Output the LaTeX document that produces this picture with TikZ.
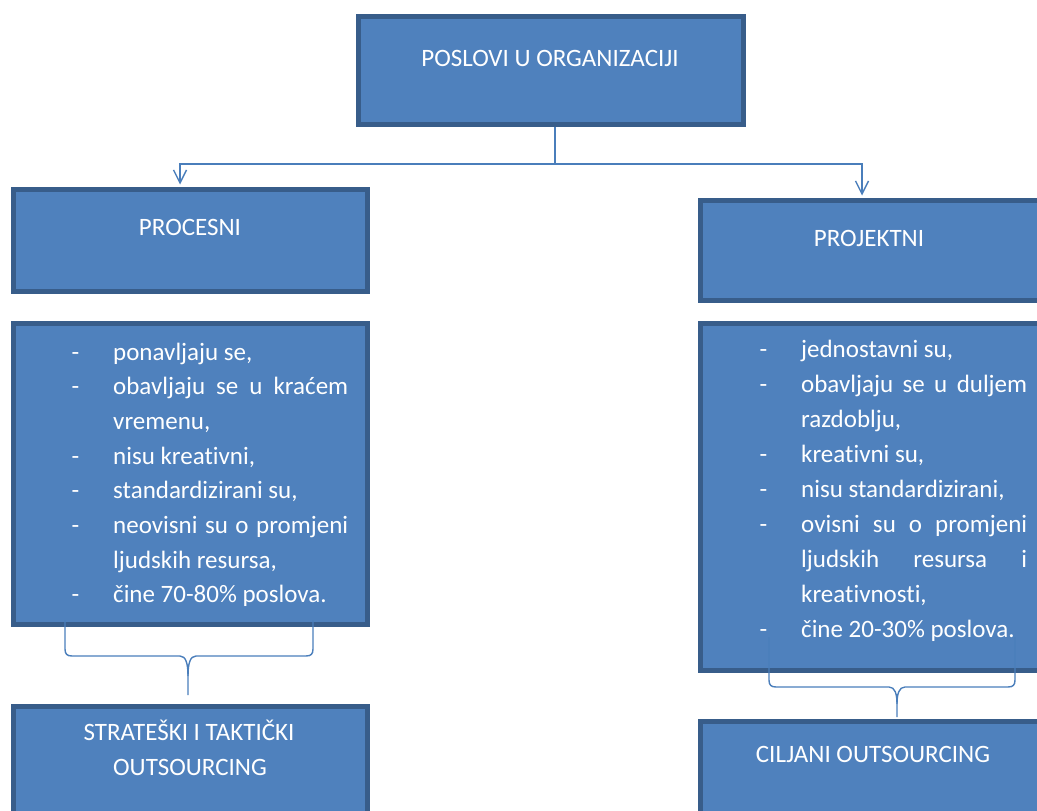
\documentclass[tikz,border=0pt]{standalone}
\usepackage{fontspec}
\setmainfont[Ligatures=NoCommon]{Carlito}
\usetikzlibrary{arrows.meta}

\definecolor{boxfill}{HTML}{4F81BD}
\definecolor{boxline}{HTML}{385D8A}
\definecolor{linkcol}{HTML}{4A7EBB}

\newlength{\dashw}
\setlength{\dashw}{41.5pt}
\newcommand{\itm}[1]{\makebox[\dashw][l]{-}#1}
\newcommand{\cont}[1]{\hspace*{\dashw}#1}
\newcommand{\jst}[2]{\makebox[#1][s]{#2}}

\begin{document}
\begin{tikzpicture}[x=1pt,y=-1pt,
    box/.style={draw=boxline, line width=5pt, fill=boxfill, inner sep=0pt},
    boxtext/.style={text=white, font=\fontsize{25}{30}\selectfont, anchor=base, inner sep=0pt},
    item/.style={text=white, font=\fontsize{25}{30}\selectfont, anchor=base west, inner sep=0pt},
    link/.style={draw=linkcol, line width=1.4pt}]

    \useasboundingbox (0,0) rectangle (1037,811);
    \clip (0,0) rectangle (1037,811);

    % boxes
    \node[box, minimum width=385pt, minimum height=108pt] (org) at (550.5,70) {};
    \node[box, minimum width=354pt, minimum height=102pt] (proc) at (190,240) {};
    \node[box, minimum width=350pt, minimum height=100pt] (proj) at (875,250) {};
    \node[box, minimum width=354pt, minimum height=301pt] (procL) at (190,473.5) {};
    \node[box, minimum width=350pt, minimum height=347pt] (projL) at (875,496.5) {};
    \node[box, minimum width=354pt, minimum height=134pt] (sto) at (190,773) {};
    \node[box, minimum width=350pt, minimum height=119pt] (cilj) at (875,780.5) {};

    % titles
    \node[boxtext] (orgT) at (550,66) {POSLOVI U ORGANIZACIJI};
    \node[boxtext] (procT) at (190,235) {PROCESNI};
    \node[boxtext] (projT) at (869,246) {PROJEKTNI};
    \node[boxtext] (stoT) at (189,740) {STRATEŠKI I TAKTIČKI};
    \node[boxtext] (stoT2) at (190,775) {OUTSOURCING};
    \node[boxtext] (ciljT) at (873,762) {CILJANI OUTSOURCING};

    % lists
    \foreach \ln [count=\i from 0] in {{\itm{ponavljaju se,}},
        {\itm{\jst{235pt}{obavljaju se u kraćem}}},
        {\cont{vremenu,}},
        {\itm{nisu kreativni,}},
        {\itm{standardizirani su,}},
        {\itm{\jst{235pt}{neovisni su o promjeni}}},
        {\cont{ljudskih resursa,}},
        {\itm{čine 70-80\% poslova.}}}
        \node[item] (pl\i) at (71.5,{360+34.7*\i}) {\ln};

    \foreach \ln [count=\i from 0] in {{\itm{jednostavni su,}},
        {\itm{\jst{226pt}{obavljaju se u duljem}}},
        {\cont{razdoblju,}},
        {\itm{kreativni su,}},
        {\itm{nisu standardizirani,}},
        {\itm{\jst{226pt}{ovisni su o promjeni}}},
        {\cont{\jst{226pt}{ljudskih resursa i}}},
        {\cont{kreativnosti,}},
        {\itm{čine 20-30\% poslova.}}}
        \node[item] (jl\i) at (759.5,{357+35.1*\i}) {\ln};

    % arrows
    \coordinate (split) at (555,164);
    \draw[link] (org.south -| split) -- (split);
    \draw[link,-{Straight Barb[length=13pt,width=13pt]}] (split) -| ([xshift=-10pt,yshift=2pt]proc.north);
    \draw[link,-{Straight Barb[length=13pt,width=13pt]}] (split) -| ([xshift=-13pt,yshift=2pt]proj.north);

    % braces
    \coordinate (procTip) at (188,695);
    \draw[link] (65,620) -- (65,649) .. controls (65,654) and (67,656) .. (72,656) -- (180,656)
        .. controls (186,656) and (188,664) .. (188,676) -- (procTip);
    \draw[link] (188,676) .. controls (188,664) and (190,656) .. (196,656) -- (306,656)
        .. controls (311,656) and (313,654) .. (313,649) -- (313,620);

    \coordinate (projTip) at (897,717);
    \draw[link] (769,637) -- (769,680) .. controls (769,685) and (771,687) .. (776,687) -- (889,687)
        .. controls (895,687) and (897,694) .. (897,704) -- (projTip);
    \draw[link] (897,704) .. controls (897,694) and (899,687) .. (905,687) -- (1008,687)
        .. controls (1013,687) and (1015,685) .. (1015,680) -- (1015,637);

\end{tikzpicture}
\end{document}
